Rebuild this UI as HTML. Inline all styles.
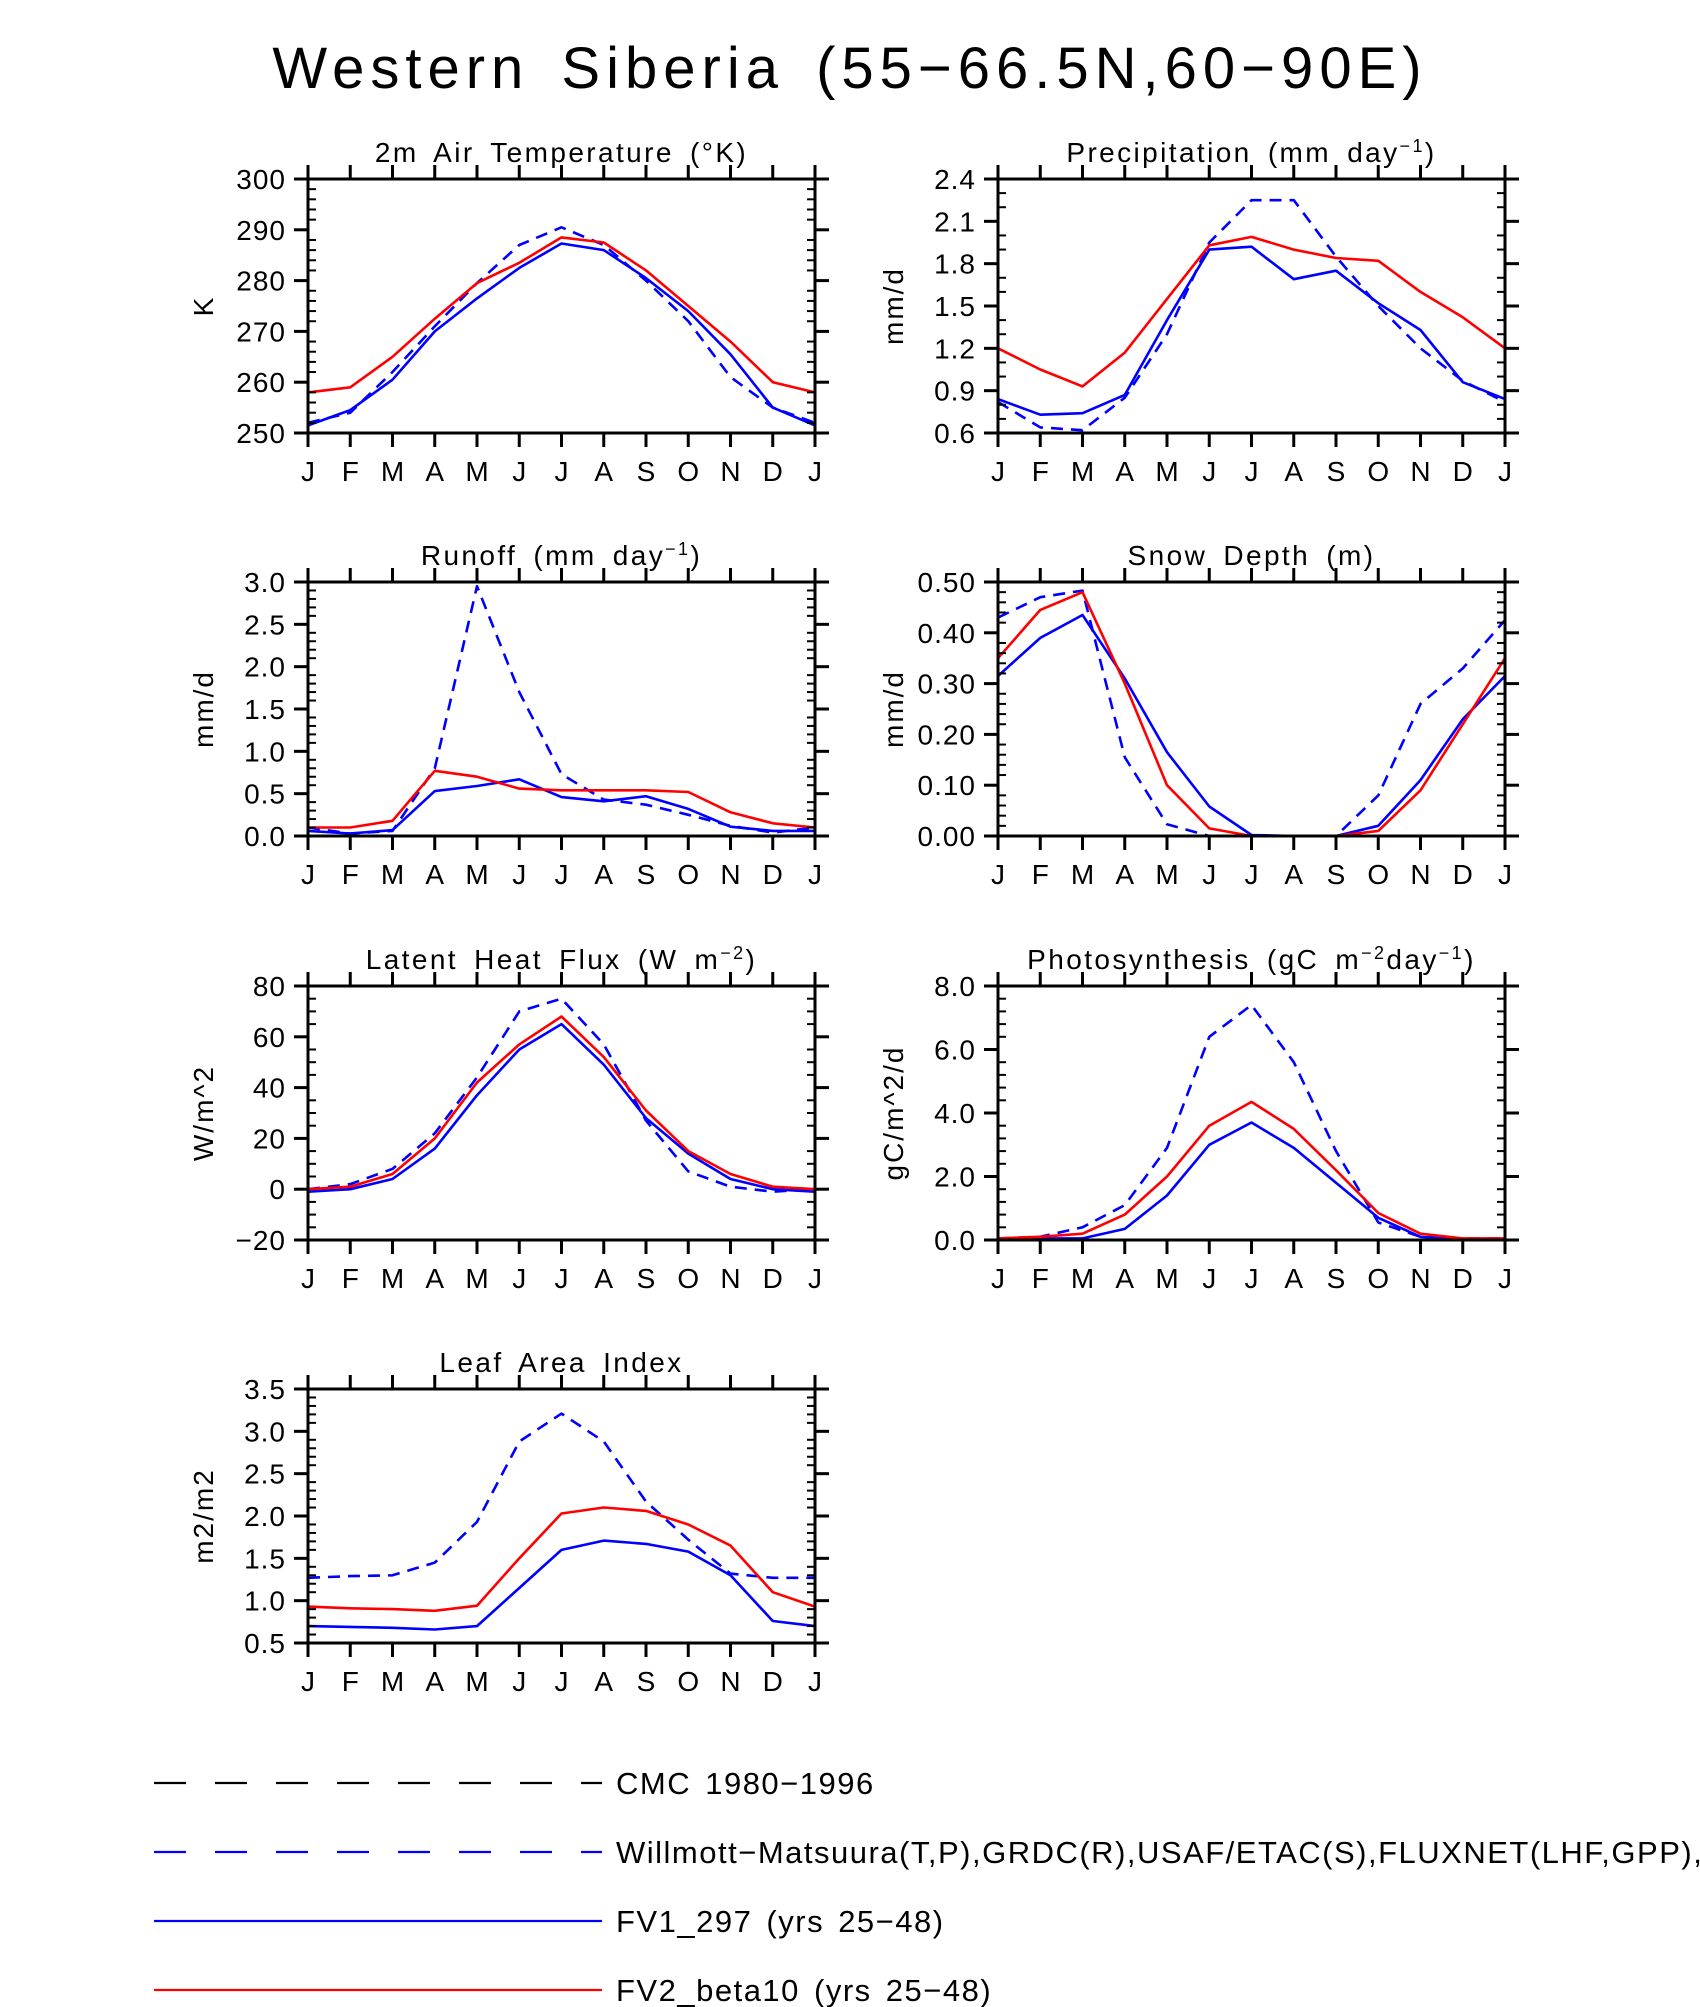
<!DOCTYPE html>
<html><head><meta charset="utf-8">
<style>
html,body{margin:0;padding:0;background:#fff;}
svg{display:block;}
text{font-family:"Liberation Sans Narrow","Liberation Sans",sans-serif;fill:#000;}
</style></head>
<body>
<svg id="fig" width="1700" height="2007" viewBox="0 0 1700 2007" xmlns="http://www.w3.org/2000/svg">
<text x="850" y="88" text-anchor="middle" font-size="58" letter-spacing="6" word-spacing="10">Western Siberia (55−66.5N,60−90E)</text>
<g id="panels"></g>
<g id="legend"></g>
</svg>
<script>
const months = ["J","F","M","A","M","J","J","A","S","O","N","D","J"];

const tempFV2 = [258,259,265,272.5,279.5,283.5,288.5,287.5,282,275,268,260,258];
const tempFV1 = [251.5,254.5,260.5,270,276.5,282.5,287.3,286,280.5,274,265.5,255,251.5];
const tempObs = [252,254,262,271,279.5,287,290.5,287,280,272,261,255,252];

const precFV2 = [1.2,1.05,0.93,1.17,1.55,1.93,1.99,1.9,1.84,1.82,1.6,1.42,1.2];
const precFV1 = [0.84,0.73,0.74,0.87,1.4,1.9,1.92,1.69,1.75,1.52,1.33,0.96,0.84];
const precObs = [0.82,0.64,0.62,0.85,1.3,1.95,2.25,2.25,1.85,1.5,1.2,0.97,0.82];

const runFV2 = [0.1,0.1,0.18,0.77,0.7,0.56,0.54,0.54,0.54,0.52,0.28,0.15,0.1];
const runFV1 = [0.06,0.03,0.07,0.53,0.59,0.67,0.46,0.41,0.47,0.32,0.11,0.06,0.06];
const runObs = [0.1,0.03,0.06,0.8,2.95,1.7,0.73,0.43,0.37,0.25,0.12,0.04,0.1];

const snowFV2 = [0.35,0.445,0.48,0.3,0.10,0.015,0,0,0,0.01,0.09,0.22,0.35];
const snowFV1 = [0.315,0.39,0.435,0.31,0.165,0.058,0.002,0,0,0.02,0.11,0.23,0.315];
const snowObs = [0.43,0.47,0.483,0.155,0.023,0,0,0,0,0.08,0.26,0.33,0.425];
const snowCMC = [0,0,0,0,0,0,0,0,0,0,0,0,0];

const lhfFV2 = [0,1,6,20,42,57,68,52,31,15,6,1,0];
const lhfFV1 = [-1,0,4,16,37,55,65,49,28,14,4,0,-1];
const lhfObs = [0,2,8,22,44,70,75,57,27,7,1,-1,0];

const gppFV2 = [0.05,0.1,0.2,0.8,2,3.6,4.35,3.5,2.2,0.85,0.2,0.05,0.05];
const gppFV1 = [0,0.05,0.05,0.35,1.4,3,3.7,2.9,1.8,0.7,0.1,0,0];
const gppObs = [0.05,0.1,0.4,1.1,2.9,6.4,7.4,5.6,2.8,0.55,0.1,0.05,0.05];

const laiFV2 = [0.93,0.91,0.9,0.88,0.94,1.5,2.03,2.1,2.06,1.9,1.65,1.1,0.93];
const laiFV1 = [0.7,0.69,0.68,0.66,0.7,1.15,1.6,1.71,1.67,1.58,1.3,0.76,0.7];
const laiObs = [1.27,1.29,1.3,1.45,1.93,2.88,3.21,2.88,2.17,1.72,1.32,1.27,1.27];

const tempTicks = ["250","260","270","280","290","300"];
const precTicks = ["0.6","0.9","1.2","1.5","1.8","2.1","2.4"];
const runTicks = ["0.0","0.5","1.0","1.5","2.0","2.5","3.0"];
const snowTicks = ["0.00","0.10","0.20","0.30","0.40","0.50"];
const lhfTicks = ["−20","0","20","40","60","80"];
const gppTicks = ["0.0","2.0","4.0","6.0","8.0"];
const laiTicks = ["0.5","1.0","1.5","2.0","2.5","3.0","3.5"];

const NS="http://www.w3.org/2000/svg";
function mk(tag, attrs, parent){const e=document.createElementNS(NS,tag);for(const k in attrs)e.setAttribute(k,attrs[k]);parent.appendChild(e);return e;}

const panels = [
 {name:"air-temperature",title:'2m Air Temperature (°K)',yt:"K",x:308,y:179,min:250,max:300,ticks:tempTicks,minor:5,series:[[tempObs,"#0000ff",true],[tempFV1,"#0000ff",false],[tempFV2,"#ff0000",false]]},
 {name:"precipitation",title:'Precipitation (mm day<tspan dy="-10" font-size="18">−1</tspan><tspan dy="10">)</tspan>',yt:"mm/d",x:998,y:179,min:0.6,max:2.4,ticks:precTicks,minor:3,series:[[precObs,"#0000ff",true],[precFV1,"#0000ff",false],[precFV2,"#ff0000",false]]},
 {name:"runoff",title:'Runoff (mm day<tspan dy="-10" font-size="18">−1</tspan><tspan dy="10">)</tspan>',yt:"mm/d",x:308,y:582,min:0,max:3,ticks:runTicks,minor:5,series:[[runObs,"#0000ff",true],[runFV1,"#0000ff",false],[runFV2,"#ff0000",false]]},
 {name:"snow-depth",title:'Snow Depth (m)',yt:"mm/d",x:998,y:582,min:0,max:0.5,ticks:snowTicks,minor:5,series:[[snowCMC,"#000000",true],[snowObs,"#0000ff",true],[snowFV1,"#0000ff",false],[snowFV2,"#ff0000",false]]},
 {name:"latent-heat-flux",title:'Latent Heat Flux (W m<tspan dy="-10" font-size="18">−2</tspan><tspan dy="10">)</tspan>',yt:"W/m^2",x:308,y:986,min:-20,max:80,ticks:lhfTicks,minor:4,series:[[lhfObs,"#0000ff",true],[lhfFV1,"#0000ff",false],[lhfFV2,"#ff0000",false]]},
 {name:"photosynthesis",title:'Photosynthesis (gC m<tspan dy="-10" font-size="18">−2</tspan><tspan dy="10">day</tspan><tspan dy="-10" font-size="18">−1</tspan><tspan dy="10">)</tspan>',yt:"gC/m^2/d",x:998,y:986,min:0,max:8,ticks:gppTicks,minor:5,series:[[gppObs,"#0000ff",true],[gppFV1,"#0000ff",false],[gppFV2,"#ff0000",false]]},
 {name:"leaf-area-index",title:'Leaf Area Index',yt:"m2/m2",x:308,y:1389,min:0.5,max:3.5,ticks:laiTicks,minor:5,series:[[laiObs,"#0000ff",true],[laiFV1,"#0000ff",false],[laiFV2,"#ff0000",false]]},
];
const W=507,H=254;
const root=document.getElementById("panels");
panels.forEach(p=>{
  const g=mk("g",{},root);
  
  
  const xs=i=>p.x+i*W/12;
  const ys=v=>p.y+H-(v-p.min)/(p.max-p.min)*H;
  const t=mk("text",{x:p.x+W/2,y:p.y-17,"text-anchor":"middle","font-size":"28","letter-spacing":"2.4","word-spacing":"6"},g);
  t.innerHTML=p.title;
  
  
  const yt=mk("text",{x:0,y:0,"text-anchor":"middle","font-size":"28","letter-spacing":"2",transform:`translate(${p.x-95},${p.y+H/2}) rotate(-90)`},g);
  yt.textContent=p.yt;
  
  
  p.series.forEach((s,si)=>{
    const pts=s[0].map((v,i)=>xs(i).toFixed(1)+","+ys(v).toFixed(1)).join(" ");
    const pl=mk("polyline",{points:pts,fill:"none",stroke:s[1],"stroke-width":"2.6","stroke-linejoin":"round"},g);
    if(s[2]) pl.setAttribute("stroke-dasharray","12 8");
    
    
  });
  mk("rect",{x:p.x,y:p.y,width:W,height:H,fill:"none",stroke:"#000","stroke-width":"3"},g);
  const n=p.ticks.length-1;
  for(let k=0;k<=n;k++){
    const v=p.min+k*(p.max-p.min)/n, yy=ys(v);
    mk("line",{x1:p.x-14,y1:yy,x2:p.x,y2:yy,stroke:"#000","stroke-width":"3"},g);
    mk("line",{x1:p.x+W,y1:yy,x2:p.x+W+14,y2:yy,stroke:"#000","stroke-width":"3"},g);
    const lb=mk("text",{x:p.x-22,y:yy+10,"text-anchor":"end","font-size":"28","letter-spacing":"1"},g);
    lb.textContent=p.ticks[k];
    
    
    if(k<n){for(let m=1;m<p.minor;m++){const y2=yy-m*H/n/p.minor;
      mk("line",{x1:p.x,y1:y2,x2:p.x+8,y2:y2,stroke:"#000","stroke-width":"2"},g);
      mk("line",{x1:p.x+W-8,y1:y2,x2:p.x+W,y2:y2,stroke:"#000","stroke-width":"2"},g);}}
  }
  months.forEach((m,i)=>{
    const xx=xs(i);
    mk("line",{x1:xx,y1:p.y+H,x2:xx,y2:p.y+H+14,stroke:"#000","stroke-width":"3"},g);
    mk("line",{x1:xx,y1:p.y-14,x2:xx,y2:p.y,stroke:"#000","stroke-width":"3"},g);
    const lb=mk("text",{x:xx,y:p.y+H+48,"text-anchor":"middle","font-size":"28"},g);
    lb.textContent=m;
    
    
  });
});
const legendLabels=["CMC 1980−1996","Willmott−Matsuura(T,P),GRDC(R),USAF/ETAC(S),FLUXNET(LHF,GPP),MODIS(LAI)","FV1_297 (yrs 25−48)","FV2_beta10 (yrs 25−48)"];
const legendColors=["#000000","#0000ff","#0000ff","#ff0000"];
const legendDash=[true,true,false,false];
const lg=document.getElementById("legend");
legendLabels.forEach((l,i)=>{
  const y=1783+i*69;
  const ln=mk("line",{x1:154,y1:y,x2:602,y2:y,stroke:legendColors[i],"stroke-width":"2.2"},lg);
  if(legendDash[i]) ln.setAttribute("stroke-dasharray","32 29");
  
  
  const tx=mk("text",{x:616,y:y+11,"font-size":"31","letter-spacing":"1.5","word-spacing":"4"},lg);
  tx.textContent=l;
  
  
});
</script>
</body></html>
